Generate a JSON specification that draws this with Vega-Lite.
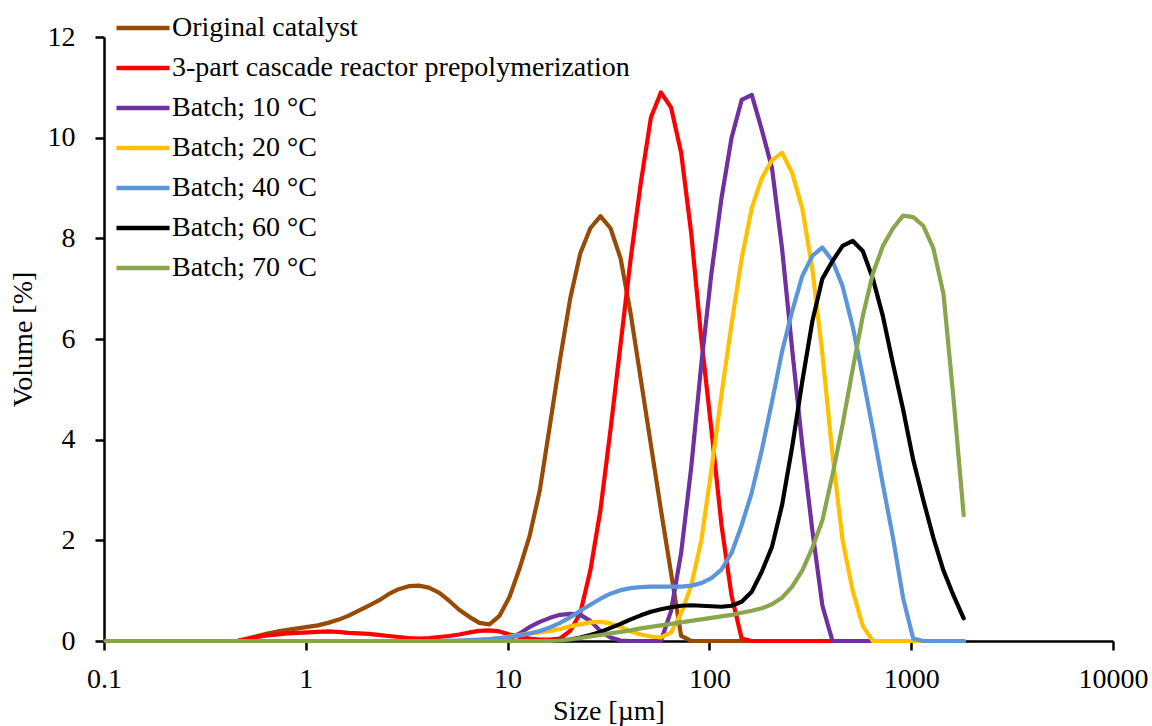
{
"$schema": "https://vega.github.io/schema/vega-lite/v6.json",
"width": 1009, "height": 604,
"autosize": {"type": "none"},
"padding": {"left": 104, "top": 37, "right": 39, "bottom": 85},
"background": "white",
"config": {"view": {"stroke": null}, "font": "Liberation Serif, Times New Roman, DejaVu Serif, serif"},
"data": {"values": [
{"x":0.102,"oc":0,"cas":0,"b10":0,"b20":0,"b40":0,"b60":0,"b70":0},
{"x":0.115,"oc":0,"cas":0,"b10":0,"b20":0,"b40":0,"b60":0,"b70":0},
{"x":0.129,"oc":0,"cas":0,"b10":0,"b20":0,"b40":0,"b60":0,"b70":0},
{"x":0.145,"oc":0,"cas":0,"b10":0,"b20":0,"b40":0,"b60":0,"b70":0},
{"x":0.162,"oc":0,"cas":0,"b10":0,"b20":0,"b40":0,"b60":0,"b70":0},
{"x":0.182,"oc":0,"cas":0,"b10":0,"b20":0,"b40":0,"b60":0,"b70":0},
{"x":0.204,"oc":0,"cas":0,"b10":0,"b20":0,"b40":0,"b60":0,"b70":0},
{"x":0.229,"oc":0,"cas":0,"b10":0,"b20":0,"b40":0,"b60":0,"b70":0},
{"x":0.257,"oc":0,"cas":0,"b10":0,"b20":0,"b40":0,"b60":0,"b70":0},
{"x":0.288,"oc":0,"cas":0,"b10":0,"b20":0,"b40":0,"b60":0,"b70":0},
{"x":0.324,"oc":0,"cas":0,"b10":0,"b20":0,"b40":0,"b60":0,"b70":0},
{"x":0.363,"oc":0,"cas":0,"b10":0,"b20":0,"b40":0,"b60":0,"b70":0},
{"x":0.407,"oc":0,"cas":0,"b10":0,"b20":0,"b40":0,"b60":0,"b70":0},
{"x":0.457,"oc":0,"cas":0,"b10":0,"b20":0,"b40":0,"b60":0,"b70":0},
{"x":0.513,"oc":0.05,"cas":0.04,"b10":0,"b20":0,"b40":0,"b60":0,"b70":0},
{"x":0.575,"oc":0.1,"cas":0.08,"b10":0,"b20":0,"b40":0,"b60":0,"b70":0},
{"x":0.646,"oc":0.15,"cas":0.11,"b10":0,"b20":0,"b40":0,"b60":0,"b70":0},
{"x":0.724,"oc":0.19,"cas":0.13,"b10":0,"b20":0,"b40":0,"b60":0,"b70":0},
{"x":0.813,"oc":0.22,"cas":0.15,"b10":0,"b20":0,"b40":0,"b60":0,"b70":0},
{"x":0.912,"oc":0.25,"cas":0.16,"b10":0,"b20":0,"b40":0,"b60":0,"b70":0},
{"x":1.023,"oc":0.28,"cas":0.17,"b10":0,"b20":0,"b40":0,"b60":0,"b70":0},
{"x":1.148,"oc":0.31,"cas":0.18,"b10":0,"b20":0,"b40":0,"b60":0,"b70":0},
{"x":1.288,"oc":0.36,"cas":0.19,"b10":0,"b20":0,"b40":0,"b60":0,"b70":0},
{"x":1.445,"oc":0.42,"cas":0.18,"b10":0,"b20":0,"b40":0,"b60":0,"b70":0},
{"x":1.622,"oc":0.5,"cas":0.16,"b10":0,"b20":0,"b40":0,"b60":0,"b70":0},
{"x":1.82,"oc":0.6,"cas":0.15,"b10":0,"b20":0,"b40":0,"b60":0,"b70":0},
{"x":2.042,"oc":0.7,"cas":0.14,"b10":0,"b20":0,"b40":0,"b60":0,"b70":0},
{"x":2.291,"oc":0.8,"cas":0.12,"b10":0,"b20":0,"b40":0,"b60":0,"b70":0},
{"x":2.57,"oc":0.93,"cas":0.1,"b10":0,"b20":0,"b40":0,"b60":0,"b70":0},
{"x":2.884,"oc":1.03,"cas":0.08,"b10":0,"b20":0,"b40":0,"b60":0,"b70":0},
{"x":3.236,"oc":1.09,"cas":0.06,"b10":0,"b20":0,"b40":0,"b60":0,"b70":0},
{"x":3.631,"oc":1.1,"cas":0.05,"b10":0,"b20":0,"b40":0,"b60":0,"b70":0},
{"x":4.074,"oc":1.06,"cas":0.06,"b10":0,"b20":0,"b40":0,"b60":0,"b70":0},
{"x":4.571,"oc":0.96,"cas":0.08,"b10":0,"b20":0,"b40":0,"b60":0,"b70":0},
{"x":5.129,"oc":0.8,"cas":0.1,"b10":0,"b20":0,"b40":0.01,"b60":0,"b70":0},
{"x":5.754,"oc":0.62,"cas":0.13,"b10":0,"b20":0,"b40":0.01,"b60":0,"b70":0},
{"x":6.457,"oc":0.48,"cas":0.17,"b10":0,"b20":0.01,"b40":0.02,"b60":0,"b70":0},
{"x":7.244,"oc":0.36,"cas":0.2,"b10":0,"b20":0.02,"b40":0.03,"b60":0,"b70":0},
{"x":8.128,"oc":0.33,"cas":0.21,"b10":0,"b20":0.04,"b40":0.04,"b60":0,"b70":0},
{"x":9.12,"oc":0.5,"cas":0.19,"b10":0.01,"b20":0.06,"b40":0.06,"b60":0,"b70":0},
{"x":10.23,"oc":0.88,"cas":0.13,"b10":0.04,"b20":0.09,"b40":0.08,"b60":0,"b70":0},
{"x":11.48,"oc":1.45,"cas":0.08,"b10":0.15,"b20":0.12,"b40":0.11,"b60":0,"b70":0},
{"x":12.88,"oc":2.1,"cas":0.05,"b10":0.28,"b20":0.15,"b40":0.15,"b60":0,"b70":0},
{"x":14.45,"oc":3.0,"cas":0.03,"b10":0.38,"b20":0.17,"b40":0.2,"b60":0,"b70":0},
{"x":16.22,"oc":4.3,"cas":0.03,"b10":0.46,"b20":0.2,"b40":0.27,"b60":0,"b70":0},
{"x":18.2,"oc":5.6,"cas":0.05,"b10":0.52,"b20":0.24,"b40":0.36,"b60":0.01,"b70":0.01},
{"x":20.42,"oc":6.8,"cas":0.2,"b10":0.54,"b20":0.29,"b40":0.47,"b60":0.03,"b70":0.03},
{"x":22.91,"oc":7.7,"cas":0.55,"b10":0.52,"b20":0.33,"b40":0.6,"b60":0.07,"b70":0.06},
{"x":25.7,"oc":8.2,"cas":1.4,"b10":0.4,"b20":0.37,"b40":0.72,"b60":0.12,"b70":0.09},
{"x":28.84,"oc":8.44,"cas":2.6,"b10":0.2,"b20":0.38,"b40":0.84,"b60":0.18,"b70":0.12},
{"x":32.36,"oc":8.2,"cas":4.2,"b10":0.07,"b20":0.35,"b40":0.94,"b60":0.26,"b70":0.15},
{"x":36.31,"oc":7.6,"cas":5.9,"b10":0.01,"b20":0.28,"b40":1.01,"b60":0.34,"b70":0.18},
{"x":40.74,"oc":6.5,"cas":7.6,"b10":0,"b20":0.19,"b40":1.05,"b60":0.43,"b70":0.21},
{"x":45.71,"oc":5.2,"cas":9.1,"b10":0,"b20":0.13,"b40":1.07,"b60":0.51,"b70":0.25},
{"x":51.29,"oc":3.9,"cas":10.4,"b10":0,"b20":0.09,"b40":1.08,"b60":0.58,"b70":0.28},
{"x":57.54,"oc":2.6,"cas":10.9,"b10":0,"b20":0.07,"b40":1.08,"b60":0.63,"b70":0.31},
{"x":64.57,"oc":1.35,"cas":10.6,"b10":0.6,"b20":0.17,"b40":1.08,"b60":0.67,"b70":0.34},
{"x":72.44,"oc":0.1,"cas":9.7,"b10":1.75,"b20":0.55,"b40":1.08,"b60":0.7,"b70":0.37},
{"x":81.28,"oc":0,"cas":8.1,"b10":3.45,"b20":1.1,"b40":1.1,"b60":0.71,"b70":0.4},
{"x":91.2,"oc":0,"cas":6.0,"b10":5.5,"b20":2.0,"b40":1.15,"b60":0.7,"b70":0.43},
{"x":102.3,"oc":0,"cas":4.2,"b10":7.3,"b20":3.4,"b40":1.25,"b60":0.69,"b70":0.46},
{"x":114.8,"oc":0,"cas":2.3,"b10":8.8,"b20":4.9,"b40":1.42,"b60":0.68,"b70":0.49},
{"x":128.8,"oc":0,"cas":0.9,"b10":10.0,"b20":6.3,"b40":1.75,"b60":0.7,"b70":0.52},
{"x":144.5,"oc":0,"cas":0.05,"b10":10.75,"b20":7.6,"b40":2.3,"b60":0.78,"b70":0.56},
{"x":162.2,"oc":0,"cas":0,"b10":10.85,"b20":8.6,"b40":2.95,"b60":0.98,"b70":0.6},
{"x":182.0,"oc":0,"cas":0,"b10":10.15,"b20":9.2,"b40":3.8,"b60":1.38,"b70":0.65},
{"x":204.2,"oc":0,"cas":0,"b10":9.4,"b20":9.55,"b40":4.75,"b60":1.87,"b70":0.73},
{"x":229.1,"oc":0,"cas":0,"b10":7.8,"b20":9.7,"b40":5.75,"b60":2.7,"b70":0.86},
{"x":257.0,"oc":0,"cas":0,"b10":5.8,"b20":9.3,"b40":6.55,"b60":3.85,"b70":1.08},
{"x":288.4,"oc":0,"cas":0,"b10":3.9,"b20":8.6,"b40":7.25,"b60":5.15,"b70":1.4},
{"x":323.6,"oc":0,"cas":0,"b10":2.2,"b20":7.4,"b40":7.65,"b60":6.35,"b70":1.85},
{"x":363.1,"oc":0,"cas":0,"b10":0.7,"b20":5.7,"b40":7.82,"b60":7.2,"b70":2.4},
{"x":407.4,"oc":0,"cas":0,"b10":0,"b20":3.7,"b40":7.55,"b60":7.55,"b70":3.3},
{"x":457.1,"oc":0,"cas":0,"b10":0,"b20":2.0,"b40":7.05,"b60":7.85,"b70":4.3},
{"x":512.9,"oc":0,"cas":0,"b10":0,"b20":1.0,"b40":6.25,"b60":7.95,"b70":5.4},
{"x":575.4,"oc":0,"cas":0,"b10":0,"b20":0.3,"b40":5.25,"b60":7.75,"b70":6.45},
{"x":645.7,"oc":0,"cas":0,"b10":0,"b20":0,"b40":4.2,"b60":7.2,"b70":7.3},
{"x":724.4,"oc":0,"cas":0,"b10":0,"b20":0,"b40":3.1,"b60":6.45,"b70":7.85},
{"x":812.8,"oc":0,"cas":0,"b10":0,"b20":0,"b40":2.05,"b60":5.5,"b70":8.2},
{"x":912.0,"oc":0,"cas":0,"b10":0,"b20":0,"b40":0.85,"b60":4.6,"b70":8.45},
{"x":1023,"oc":0,"cas":0,"b10":0,"b20":0,"b40":0.05,"b60":3.6,"b70":8.42},
{"x":1148,"oc":0,"cas":0,"b10":0,"b20":0,"b40":0,"b60":2.8,"b70":8.25},
{"x":1288,"oc":0,"cas":0,"b10":0,"b20":0,"b40":0,"b60":2.05,"b70":7.8},
{"x":1445,"oc":0,"cas":0,"b10":0,"b20":0,"b40":0,"b60":1.4,"b70":6.9},
{"x":1622,"oc":0,"cas":0,"b10":0,"b20":0,"b40":0,"b60":0.9,"b70":4.8},
{"x":1820,"oc":0,"cas":0,"b10":0,"b20":0,"b40":0,"b60":0.45,"b70":2.5}
]},
"transform": [{"fold": ["oc","cas","b10","b20","b40","b60","b70"], "as": ["series","vol"]}],
"mark": {"type": "line", "strokeWidth": 4.2, "strokeCap": "round", "strokeJoin": "round", "clip": false},
"encoding": {
  "x": {"field": "x", "type": "quantitative",
    "scale": {"type": "log", "domain": [0.1, 10000], "nice": false},
    "axis": {"values": [0.1, 1, 10, 100, 1000, 10000], "format": "~g", "title": "Size [µm]",
      "grid": false, "domainColor": "black", "domainWidth": 2.5, "tickColor": "black", "tickWidth": 2.5, "tickSize": 9,
      "labelFont": "Liberation Serif, Times New Roman, DejaVu Serif, serif", "labelFontSize": 28, "labelColor": "black", "labelPadding": 15, "labelFlush": false,
      "titleFont": "Liberation Serif, Times New Roman, DejaVu Serif, serif", "titleFontSize": 28, "titleFontWeight": "normal", "titleColor": "black", "titlePadding": 4}},
  "y": {"field": "vol", "type": "quantitative",
    "scale": {"domain": [0, 12], "nice": false},
    "axis": {"values": [0, 2, 4, 6, 8, 10, 12], "title": "Volume [%]",
      "grid": false, "domainColor": "black", "domainWidth": 2.5, "tickColor": "black", "tickWidth": 2.5, "tickSize": 9,
      "labelFont": "Liberation Serif, Times New Roman, DejaVu Serif, serif", "labelFontSize": 28, "labelColor": "black", "labelPadding": 20,
      "titleFont": "Liberation Serif, Times New Roman, DejaVu Serif, serif", "titleFontSize": 28, "titleFontWeight": "normal", "titleColor": "black", "titlePadding": 10}},
  "color": {"field": "series", "type": "nominal",
    "scale": {"domain": ["oc","cas","b10","b20","b40","b60","b70"],
      "range": ["#984B05","#FF0000","#7030A0","#FFC000","#5B96D8","#000000","#8AA64C"]},
    "sort": ["oc","cas","b10","b20","b40","b60","b70"],
    "legend": {"orient": "none", "legendX": 25, "legendY": -23, "title": null,
      "symbolType": "M-3,0H3", "symbolSize": 313, "symbolStrokeWidth": 4.5,
      "labelFont": "Liberation Serif, Times New Roman, DejaVu Serif, serif", "labelFontSize": 28, "labelColor": "black", "labelLimit": 0,
      "labelOffset": 15, "rowPadding": 12, "padding": 0,
      "labelExpr": "{'oc':'Original catalyst','cas':'3-part cascade reactor prepolymerization','b10':'Batch; 10 °C','b20':'Batch; 20 °C','b40':'Batch; 40 °C','b60':'Batch; 60 °C','b70':'Batch; 70 °C'}[datum.value]"}}
}
}
